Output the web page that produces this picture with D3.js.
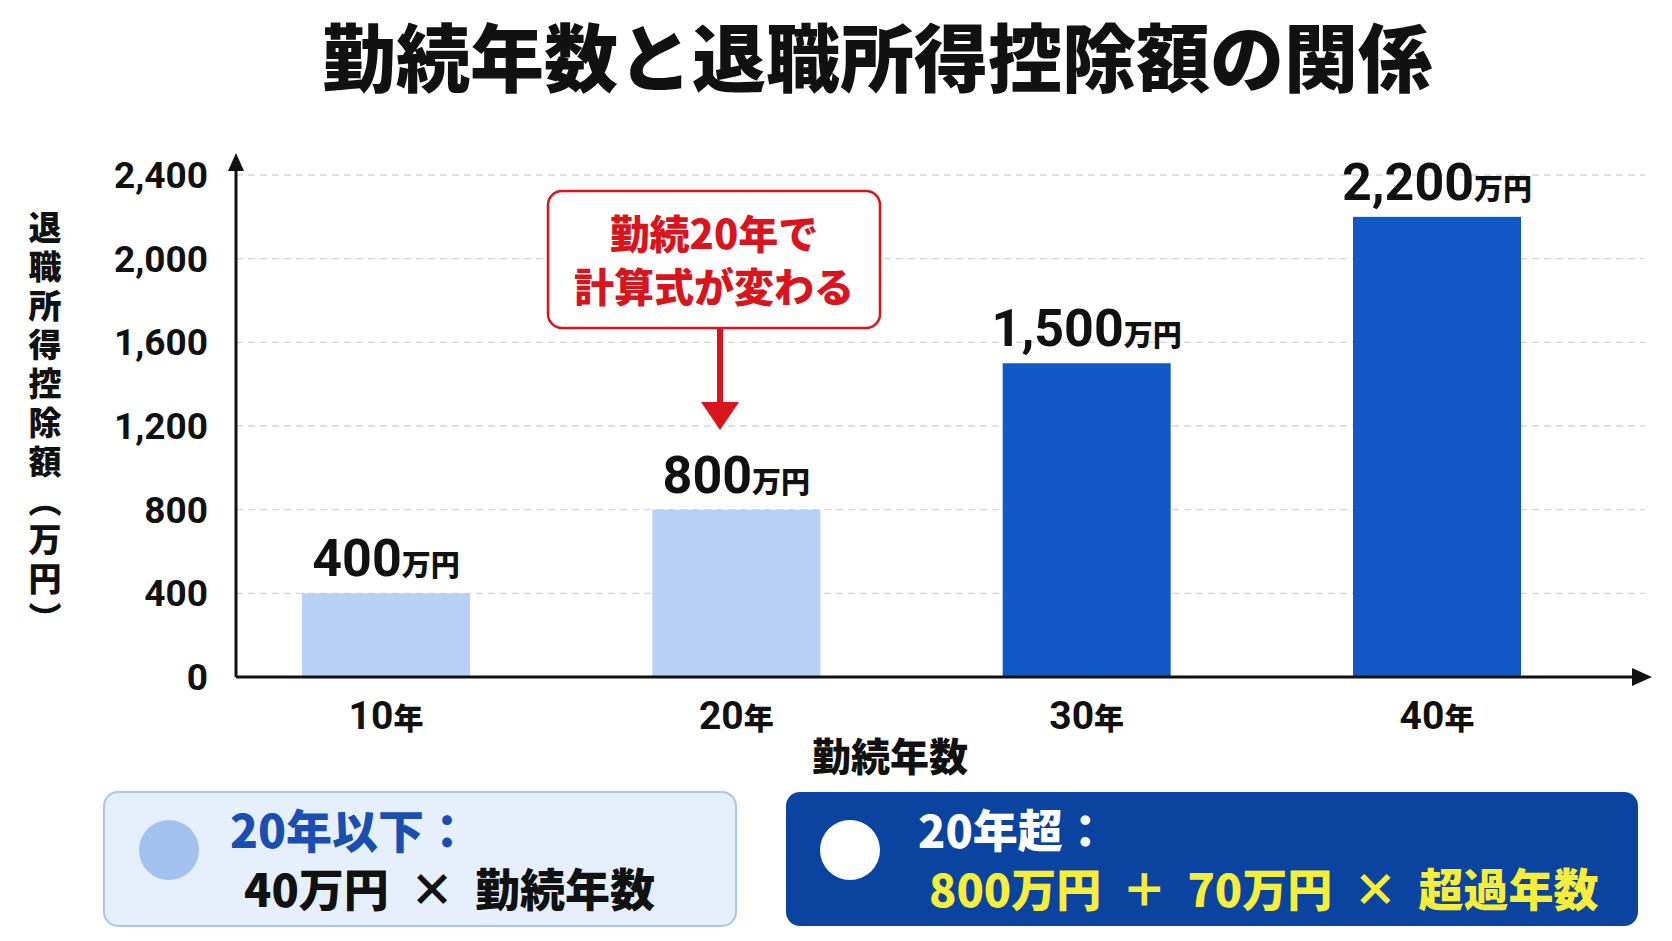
<!DOCTYPE html><html><head><meta charset="utf-8">
<script src="https://cdn.jsdelivr.net/npm/d3@7"></script>
<style>body{margin:0;background:#fff}svg{font-family:"Noto Sans CJK JP",sans-serif;font-weight:900}</style></head><body>
<svg id="c" width="1672" height="941"></svg>
<script>
const categories=["10年","20年","30年","40年"];
const years=[10,20,30,40];
const values=[400,800,1500,2200];
const valueLabels=["400","800","1,500","2,200"];
const yTicks=[0,400,800,1200,1600,2000,2400];
const svg=d3.select("#c");
const x=d3.scaleLinear().domain([10,40]).range([386,1437]);
const y=d3.scaleLinear().domain([0,2400]).range([677,175]);
const bw=168;
svg.append("text").attr("x",877).attr("y",86).attr("text-anchor","middle").attr("font-size",74).attr("fill","#111").text("勤続年数と退職所得控除額の関係");
svg.selectAll(".g").data(yTicks.slice(1)).enter().append("line").attr("x1",236).attr("x2",1645).attr("y1",d=>y(d)).attr("y2",d=>y(d)).attr("stroke","#d6d6d6").attr("stroke-dasharray","7,5").attr("stroke-width",1.3);
svg.selectAll(".t").data(yTicks).enter().append("text").attr("x",208).attr("y",d=>y(d)+13).attr("text-anchor","end").attr("font-size",37).attr("font-family","Roboto,sans-serif").attr("font-weight",700).attr("fill","#111").text(d=>d3.format(",")(d));
svg.selectAll(".b").data(values).enter().append("rect").attr("x",(d,i)=>x(years[i])-bw/2).attr("width",bw).attr("y",d=>y(d)).attr("height",d=>y(0)-y(d)).attr("fill",(d,i)=>years[i]<=20?"#b8d0f5":"#1257c6");
const vl=svg.selectAll(".v").data(values).enter().append("text").attr("x",(d,i)=>x(years[i])).attr("y",d=>y(d)-17).attr("text-anchor","middle").attr("fill","#111");
vl.append("tspan").attr("font-size",52).attr("font-family","Roboto,sans-serif").attr("font-weight",700).text((d,i)=>valueLabels[i]);
vl.append("tspan").attr("font-size",29).text("万円");
svg.append("line").attr("x1",236).attr("x2",1640).attr("y1",y(0)).attr("y2",y(0)).attr("stroke","#111").attr("stroke-width",3);
svg.append("path").attr("d",`M1652,${y(0)} l-20,-9 v18 z`).attr("fill","#111");
svg.append("line").attr("x1",236).attr("x2",236).attr("y1",y(0)).attr("y2",165).attr("stroke","#111").attr("stroke-width",3);
svg.append("path").attr("d","M236,153 l-8,18 h16 z").attr("fill","#111");
const xl=svg.selectAll(".x").data(categories).enter().append("text").attr("x",(d,i)=>x(years[i])).attr("y",729).attr("text-anchor","middle").attr("fill","#111");
xl.append("tspan").attr("font-size",39).attr("font-family","Roboto,sans-serif").attr("font-weight",700).text(d=>d.replace("年",""));
xl.append("tspan").attr("font-size",30).text("年");
svg.append("text").attr("x",890).attr("y",771).attr("text-anchor","middle").attr("font-size",39).attr("fill","#111").text("勤続年数");
const yl="退職所得控除額（万円）".split("");
svg.selectAll(".yl").data(yl).enter().append("text").attr("x",45).attr("y",(d,i)=>240+i*39).attr("text-anchor","middle").attr("font-size",33).attr("fill","#111").attr("transform",(d,i)=>(d=="（"||d=="）")?`rotate(90,45,${228+i*39})`:null).text(d=>d);
// callout
svg.append("rect").attr("x",548).attr("y",191).attr("width",332).attr("height",137).attr("rx",14).attr("fill","#fff").attr("stroke","#d9141c").attr("stroke-width",2.5);
svg.append("text").attr("x",714).attr("y",249).attr("text-anchor","middle").attr("font-size",40).attr("fill","#d9141c").text("勤続20年で");
svg.append("text").attr("x",714).attr("y",302).attr("text-anchor","middle").attr("font-size",40).attr("fill","#d9141c").text("計算式が変わる");
svg.append("line").attr("x1",720).attr("x2",720).attr("y1",329).attr("y2",405).attr("stroke","#d9141c").attr("stroke-width",6);
svg.append("path").attr("d","M720,430 l-19,-28 h38 z").attr("fill","#d9141c");
// legends
svg.append("rect").attr("x",104).attr("y",792).attr("width",632).attr("height",134).attr("rx",14).attr("fill","#e6f0fc").attr("stroke","#aac6f0").attr("stroke-width",2);
svg.append("circle").attr("cx",169).attr("cy",850).attr("r",30).attr("fill","#a4c2f0");
svg.append("text").attr("x",230).attr("y",848).attr("font-size",46).attr("fill","#1a4fb0").text("20年以下：");
svg.append("text").attr("x",244).attr("y",907).attr("font-size",45).attr("fill","#111").attr("xml:space","preserve").text("40万円  ×  勤続年数");
svg.append("rect").attr("x",786).attr("y",792).attr("width",852).attr("height",134).attr("rx",14).attr("fill","#0a43a0");
svg.append("circle").attr("cx",850).attr("cy",850).attr("r",30).attr("fill","#fff");
svg.append("text").attr("x",918).attr("y",848).attr("font-size",45).attr("fill","#fff").text("20年超：");
svg.append("text").attr("x",929).attr("y",907).attr("font-size",45).attr("fill","#f7ee3a").attr("xml:space","preserve").text("800万円  ＋  70万円  ×  超過年数");
</script></body></html>
